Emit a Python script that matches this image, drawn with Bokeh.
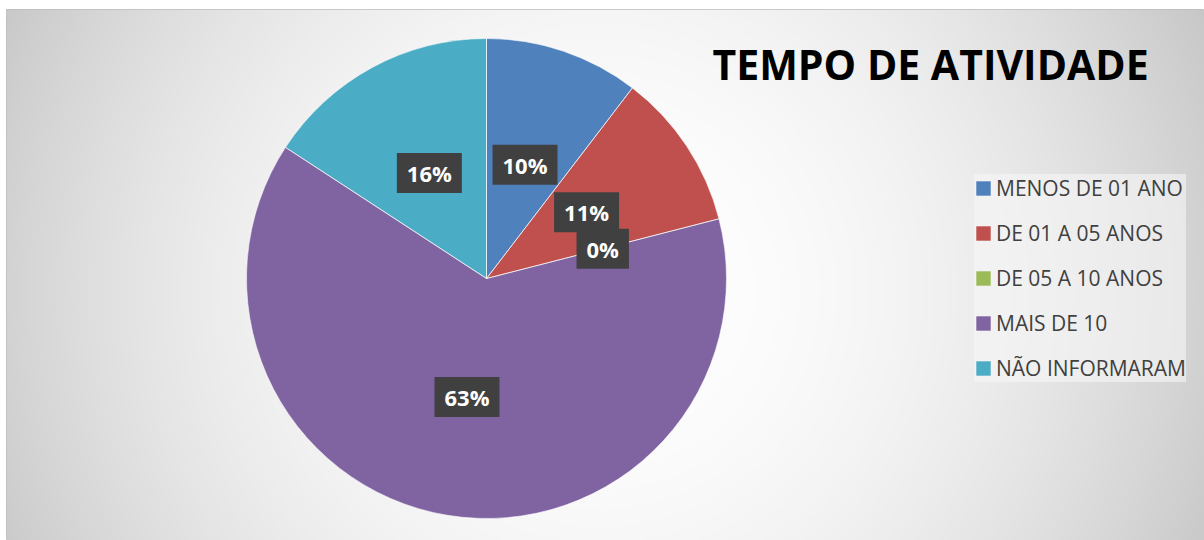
import numpy as np
from math import pi, sin, cos
from bokeh.plotting import figure
from bokeh.models import Range1d, ColumnDataSource, Label, Legend, LegendItem
from bokeh.embed import file_html
from bokeh.resources import INLINE

# ---- data ----
categories = ["MENOS DE 01 ANO", "DE 01 A 05 ANOS", "DE 05 A 10 ANOS", "MAIS DE 10", "NÃO INFORMARAM"]
percent_values = [10.4, 10.6, 0.0, 63.2, 15.8]
slice_colors = ["#4F81BD", "#C0504D", "#9BBB59", "#8064A2", "#4BACC6"]
chart_title = "TEMPO DE ATIVIDADE"

PW, PH = 1204, 540
X0, Y0 = 6, 9          # chart area starts here (page px)
p = figure(width=PW, height=PH, output_backend="svg", toolbar_location=None,
           x_range=Range1d(X0, PW), y_range=Range1d(0, PH - Y0),
           x_axis_location=None, y_axis_location=None,
           min_border_left=X0, min_border_top=Y0, min_border_right=0, min_border_bottom=0)
p.grid.visible = False
p.outline_line_color = "#bdbdbd"
p.background_fill_color = "#ffffff"
p.border_fill_color = "#ffffff"

# background radial gradient (style only)
FW, FH = PW - X0, PH - Y0
step = 2
xs = X0 + np.arange(0, FW, step) + step / 2
ys = np.arange(0, FH, step) + step / 2
XX, YY = np.meshgrid(xs, ys)
rx = XX
ry = PH - YY
g = 255 - 1.25e-4 * ((rx - 600) ** 2 + (ry - 290) ** 2)
g = np.clip(g, 185, 255).astype(np.uint32)
img = (255 << 24) | (g << 16) | (g << 8) | g
p.image_rgba(image=[img.astype(np.uint32)], x=X0, y=0, dw=FW, dh=FH)

# pie
cx, cy, R = 486, PH - 278, 240
total = sum(percent_values)
fr = np.array(percent_values) / total
c1 = np.cumsum(fr)
c0 = c1 - fr
start = pi / 2 - 2 * pi * c0
end = pi / 2 - 2 * pi * c1
radius = [R if v > 0 else 0 for v in percent_values]   # zero slices draw nothing
src = ColumnDataSource(dict(cat=categories, val=percent_values, color=slice_colors,
                            start=start, end=end, r=radius))
r_fill = p.wedge(x=cx, y=cy, radius="r", start_angle="start", end_angle="end",
                 direction="clock", fill_color="color", line_color=None, source=src)
p.wedge(x=cx, y=cy, radius="r", start_angle="start", end_angle="end",
        direction="clock", fill_color=None, line_color="white", line_alpha=0.55,
        line_width=1, source=src)

# data labels
for v, a0, a1 in zip(percent_values, c0, c1):
    th = 2 * pi * (a0 + a1) / 2
    lx = cx + 0.5 * R * sin(th)
    ly = cy + 0.5 * R * cos(th)
    p.add_layout(Label(x=lx, y=ly, text=f"{round(v)}%", text_align="center",
                       text_baseline="middle", text_font="Open Sans",
                       text_font_style="bold", text_font_size="22px",
                       text_color="white", background_fill_color="#404040",
                       padding=dict(left=10, right=10, top=5, bottom=5)))

# title
p.add_layout(Label(x=712, y=PH - 63, text=chart_title, text_font="Open Sans",
                   text_font_style="bold", text_font_size="41px", text_color="black",
                   text_baseline="middle", text_align="left"))

# legend
items = [LegendItem(label=c, renderers=[r_fill], index=i) for i, c in enumerate(categories)]
legend = Legend(items=items, location=(968, 158), padding=9, spacing=17,
                glyph_width=18, glyph_height=18, label_standoff=4,
                label_text_font="Open Sans", label_text_font_size="21px",
                label_text_color="#404040", background_fill_color="#f7f7f7",
                background_fill_alpha=0.6, border_line_color=None, margin=0)
p.add_layout(legend)

open("out.html", "w").write(file_html(p, INLINE))
